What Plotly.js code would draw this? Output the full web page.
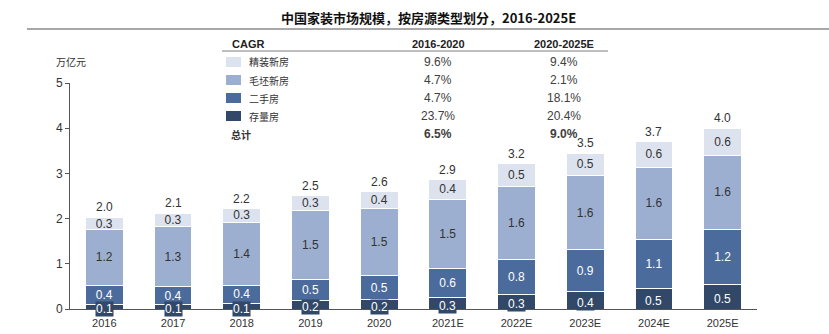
<!DOCTYPE html>
<html><head><meta charset="utf-8">
<script src="https://cdn.plot.ly/plotly-3.0.1.min.js"></script>
<style>body{margin:0;background:#fff}#chart{width:829px;height:334px}</style>
</head><body><div id="chart"></div>
<script>
// ---- data ----
const categories = ['2016','2017','2018','2019','2020','2021E','2022E','2023E','2024E','2025E'];
const seriesNames = ['存量房','二手房','毛坯新房','精装新房'];
const stockHousing   = [0.09,0.09,0.13,0.18,0.21,0.26,0.31,0.38,0.46,0.54];
const secondHand     = [0.44,0.41,0.40,0.47,0.53,0.64,0.78,0.93,1.08,1.23];
const roughNew       = [1.22,1.32,1.39,1.52,1.48,1.53,1.62,1.64,1.60,1.63];
const finishedNew    = [0.28,0.30,0.30,0.34,0.37,0.43,0.50,0.50,0.56,0.60];
const totals         = ['2.0','2.1','2.2','2.5','2.6','2.9','3.2','3.5','3.7','4.0'];
const stockLabels    = ['0.1','0.1','0.1','0.2','0.2','0.3','0.3','0.4','0.5','0.5'];
const secondLabels   = ['0.4','0.4','0.4','0.5','0.5','0.6','0.8','0.9','1.1','1.2'];
const roughLabels    = ['1.2','1.3','1.4','1.5','1.5','1.5','1.6','1.6','1.6','1.6'];
const finishedLabels = ['0.3','0.3','0.3','0.3','0.4','0.4','0.5','0.5','0.6','0.6'];
// CAGR table
const cagrHeaders = ['CAGR','2016-2020','2020-2025E'];
const tableRowNames = ['精装新房','毛坯新房','二手房','存量房','总计'];
const cagr1620 = ['9.6%','4.7%','4.7%','23.7%','6.5%'];
const cagr2025 = ['9.4%','2.1%','18.1%','20.4%','9.0%'];

// ---- styles ----
const colors = {stock:'#314869', second:'#4b6b9c', rough:'#9cafd0', finished:'#dde3ee'};
const NUM = 'Liberation Sans, Arial, sans-serif';
const CJK = 'Noto Sans CJK SC, sans-serif';

// plot area pixel geometry for paper conversions
const L = 70, T = 83, W = 687, H = 226;
const px = x => (x - L) / W;
const py = y => (T + H - y) / H;

function barTrace(name, vals, labels, color, txtColor, showText) {
  return {
    type:'bar', name, x:categories, y:vals,
    marker:{color, line:{color:'#ffffff', width:1}},
    text: showText ? labels : undefined,
    textposition: showText ? 'inside' : 'none',
    insidetextanchor:'middle',
    textfont:{family:NUM, size:12, color:txtColor},
    hoverinfo:'none', showlegend:false
  };
}

const data = [
  barTrace(seriesNames[0], stockHousing, stockLabels, colors.stock, '#fff', false),
  barTrace(seriesNames[1], secondHand, secondLabels, colors.second, '#ffffff', true),
  barTrace(seriesNames[2], roughNew, roughLabels, colors.rough, '#333333', true),
  barTrace(seriesNames[3], finishedNew, finishedLabels, colors.finished, '#333333', true)
];

const annotations = [];
function paperText(x, y, text, font, xanchor) {
  annotations.push({xref:'paper', yref:'paper', x:px(x), y:py(y), text, showarrow:false,
    xanchor:xanchor||'center', yanchor:'middle', font});
}
// stock labels with dark box, and totals
categories.forEach((c,i)=>{
  annotations.push({x:i, y:stockHousing[i]/2, xref:'x', yref:'y', text:stockLabels[i],
    showarrow:false, xanchor:'center', yanchor:'middle', yshift:-2.5, bgcolor:colors.stock, borderpad:0,
    font:{family:NUM, size:12, color:'#ffffff'}});
  const tot = stockHousing[i]+secondHand[i]+roughNew[i]+finishedNew[i];
  annotations.push({x:i, y:tot, xref:'x', yref:'y', text:totals[i], showarrow:false,
    xanchor:'center', yanchor:'bottom', yshift:1, font:{family:NUM, size:12, color:'#333333'}});
});
// title
paperText(428, 17, '<b>中国家装市场规模，按房源类型划分，2016-2025E</b>', {family:CJK, size:13, color:'#111'});
// unit
paperText(54, 62, '万亿元', {family:CJK, size:10, color:'#333'}, 'left');
// table headers
paperText(230, 44, '<b>'+cagrHeaders[0]+'</b>', {family:NUM, size:11, color:'#222'}, 'left');
paperText(438, 44, '<b>'+cagrHeaders[1]+'</b>', {family:NUM, size:11, color:'#222'});
paperText(564, 44, '<b>'+cagrHeaders[2]+'</b>', {family:NUM, size:11, color:'#222'});
const rowY = [62, 80, 98, 116, 134];
const swatchColors = [colors.finished, colors.rough, colors.second, colors.stock];
const shapes = [
  {type:'line', xref:'paper', yref:'paper', x0:px(27), x1:px(829), y0:py(29), y1:py(29), line:{color:'#a8a8a8', width:2}},
  {type:'line', xref:'paper', yref:'paper', x0:px(222), x1:px(608), y0:py(51), y1:py(51), line:{color:'#a8a8a8', width:1.5}}
];
tableRowNames.forEach((n,i)=>{
  const bold = i===4;
  paperText(i===4?229:247, rowY[i], bold?'<b>'+n+'</b>':n, {family:CJK, size:10, color:'#333'}, 'left');
  paperText(438, rowY[i], bold?'<b>'+cagr1620[i]+'</b>':cagr1620[i], {family:NUM, size:12, color:'#404040'});
  paperText(564, rowY[i], bold?'<b>'+cagr2025[i]+'</b>':cagr2025[i], {family:NUM, size:12, color:'#404040'});
  if (i<4) shapes.push({type:'rect', xref:'paper', yref:'paper', x0:px(226), x1:px(241),
    y0:py(rowY[i]+5), y1:py(rowY[i]-5), fillcolor:swatchColors[i], line:{width:0}});
});

const layout = {
  width:829, height:334, margin:{l:L, r:829-L-W, t:T, b:334-T-H},
  paper_bgcolor:'#fff', plot_bgcolor:'#fff',
  barmode:'stack', bargap:0.45,
  showlegend:false,
  xaxis:{type:'category', range:[-0.5,9.5], showline:true, linecolor:'#555', linewidth:1,
    ticks:'', ticklabelstandoff:4, showgrid:false, zeroline:false, tickfont:{family:NUM, size:11, color:'#333'}, fixedrange:true},
  yaxis:{range:[0,5], dtick:1, showline:true, linecolor:'#555', linewidth:1, ticks:'outside', ticklen:4,
    tickcolor:'#555', showgrid:false, zeroline:false, tickfont:{family:NUM, size:12, color:'#333'}, fixedrange:true},
  annotations, shapes,
  uniformtext:{mode:'show', minsize:12}
};
Plotly.newPlot('chart', data, layout, {staticPlot:true, displayModeBar:false});
</script></body></html>
